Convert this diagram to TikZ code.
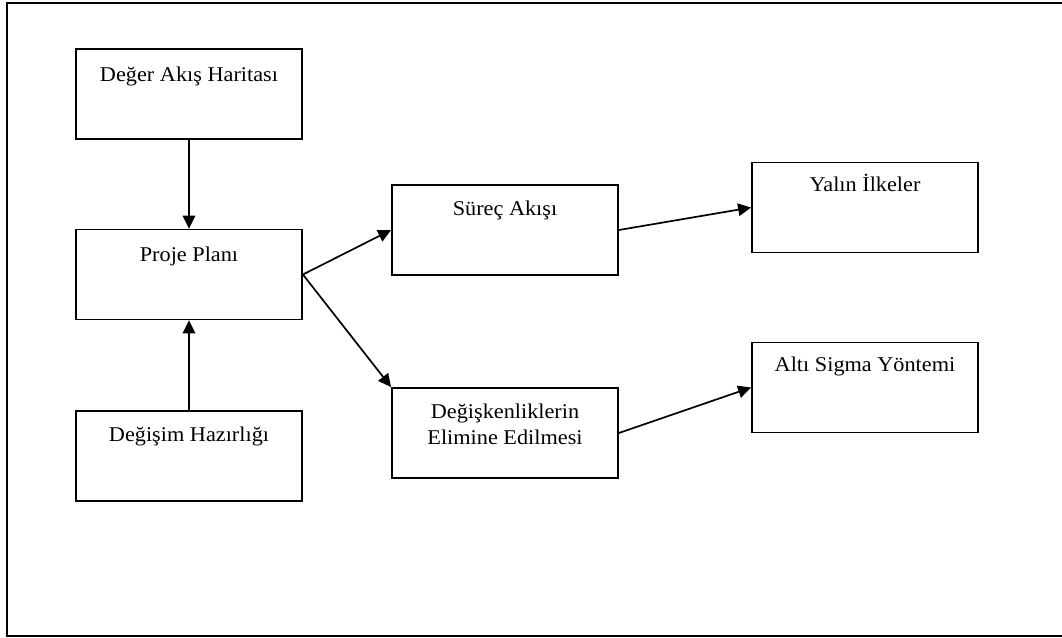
\documentclass[tikz,border=0pt]{standalone}
\usepackage{fontspec}
\setmainfont{Liberation Serif}
\usepackage{graphicx}
\usetikzlibrary{arrows.meta}
% captions are set slightly wide
\newcommand\widetext[1]{\scalebox{1.06}[1]{#1}}
\begin{document}
\begin{tikzpicture}[x=1pt,y=-1pt,
  box/.style={draw, line width=1.8pt, minimum width=226pt, minimum height=90pt, inner sep=0pt},
  caption/.style={anchor=base, inner sep=0pt, font=\fontsize{21}{26}\selectfont},
  link/.style={line width=1.7pt, -{Triangle[length=13pt,width=12.5pt]}}]
\useasboundingbox (0,0) rectangle (1062,637);
% page frame, open to the right
\draw[line width=1.9pt] (1075,3) -- (7,3) -- (7,636) -- (1075,636);

% boxes
\node[box] (d) at (189,94) {};
\node[box] (p) at (189,274.5) {};
\node[box] (h) at (189,456) {};
\node[box] (s) at (505,230) {};
\node[box] (e) at (505,433) {};
\node[box] (y) at (865,207.5) {};
\node[box] (a) at (865,387.5) {};

% captions
\node[caption] (dt) at ([yshift=-33pt]d.north) {\widetext{Değer Akış Haritası}};
\node[caption] (pt) at ([yshift=-33pt]p.north) {\widetext{Proje Planı}};
\node[caption] (ht) at ([yshift=-31pt]h.north) {\widetext{Değişim Hazırlığı}};
\node[caption] (st) at ([yshift=-31pt]s.north) {\widetext{Süreç Akışı}};
\node[caption] (et) at ([yshift=-31pt]e.north) {\widetext{\begin{tabular}[t]{@{}c@{}}Değişkenliklerin\\Elimine Edilmesi\end{tabular}}};
\node[caption] (yt) at ([yshift=-30pt]y.north) {\widetext{Yalın İlkeler}};
\node[caption] (at) at ([yshift=-30pt]a.north) {\widetext{Altı Sigma Yöntemi}};

% connectors
\draw[link] (d.south) -- (p.north);
\draw[link] (h.north) -- (p.south);
\draw[link] (p.east) -- (s.west);
\draw[link] (p.east) -- (e.north west);
\draw[link] (s.east) -- (y.west);
\draw[link] (e.east) -- (a.west);
\end{tikzpicture}
\end{document}
